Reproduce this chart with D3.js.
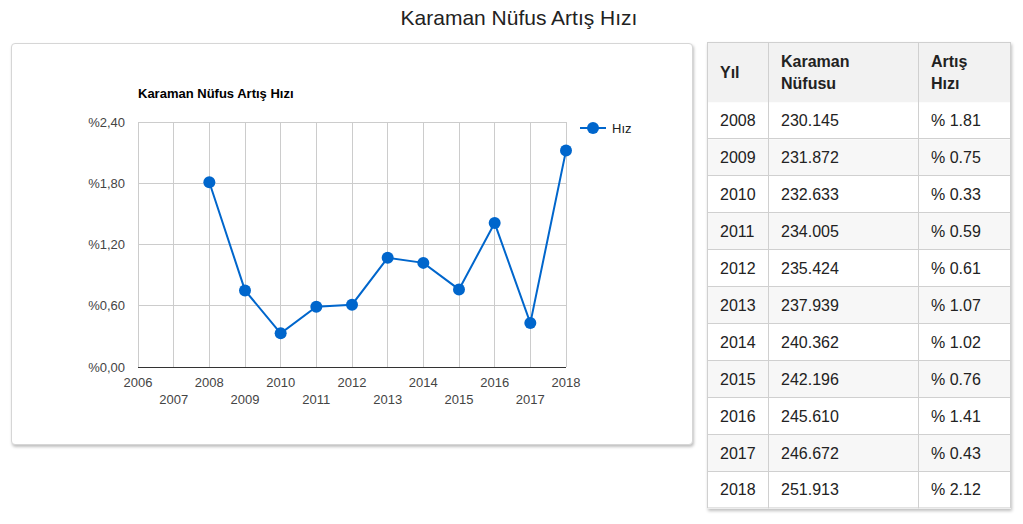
<!DOCTYPE html>
<html>
<head>
<meta charset="utf-8">
<script src="https://cdn.jsdelivr.net/npm/d3@7"></script>
<style>
  html, body { margin: 0; padding: 0; background: #fff; width: 1023px; height: 524px; overflow: hidden; }
  body { position: relative; font-family: "Liberation Sans", Arial, sans-serif; }
  #title { position: absolute; left: 0; width: 1038px; top: 6px; text-align: center; font-size: 21px; color: #222; }
  #card { position: absolute; left: 11px; top: 43px; width: 680px; height: 400px; border: 1px solid #d6d6d6; border-radius: 4px; box-shadow: 1px 2px 3px rgba(0,0,0,0.25); background: #fff; }
  #tbl { position: absolute; left: 707px; top: 42px; width: 304px; height: 467px; box-shadow: 1px 2px 3px rgba(0,0,0,0.25); background: #fff; }
  svg { position: absolute; left: 0; top: 0; }
</style>
</head>
<body>
<div id="title">Karaman Nüfus Artış Hızı</div>
<div id="card"></div>
<div id="tbl"></div>
<svg id="chart" width="1023" height="524"></svg>
<script>
const years = [2008, 2009, 2010, 2011, 2012, 2013, 2014, 2015, 2016, 2017, 2018];
const rates = [1.81, 0.75, 0.33, 0.59, 0.61, 1.07, 1.02, 0.76, 1.41, 0.43, 2.12];
const population = ["230.145", "231.872", "232.633", "234.005", "235.424", "237.939", "240.362", "242.196", "245.610", "246.672", "251.913"];
const rateLabels = ["% 1.81", "% 0.75", "% 0.33", "% 0.59", "% 0.61", "% 1.07", "% 1.02", "% 0.76", "% 1.41", "% 0.43", "% 2.12"];
const xTicks = [2006, 2007, 2008, 2009, 2010, 2011, 2012, 2013, 2014, 2015, 2016, 2017, 2018];
const yTicks = [0, 0.6, 1.2, 1.8, 2.4];
const yTickLabels = ["%0,00", "%0,60", "%1,20", "%1,80", "%2,40"];
const headers = [["Yıl"], ["Karaman", "Nüfusu"], ["Artış", "Hızı"]];

const svg = d3.select("#chart");
const color = "#0066cc";
const x = d3.scaleLinear().domain([2006, 2018]).range([138, 566]);
const y = d3.scaleLinear().domain([0, 2.4]).range([367, 122]);

const g = svg.append("g");
// gridlines
g.selectAll("line.h").data(yTicks).join("line")
  .attr("x1", x(2006)).attr("x2", x(2018))
  .attr("y1", d => y(d)).attr("y2", d => y(d))
  .attr("stroke", "#cccccc").attr("stroke-width", 1).attr("shape-rendering", "crispEdges");
g.selectAll("line.v").data(xTicks).join("line")
  .attr("x1", d => x(d)).attr("x2", d => x(d))
  .attr("y1", y(2.4)).attr("y2", y(0))
  .attr("stroke", "#cccccc").attr("stroke-width", 1).attr("shape-rendering", "crispEdges");
// baseline
g.append("line").attr("x1", x(2006)).attr("x2", x(2018)).attr("y1", y(0)).attr("y2", y(0))
  .attr("stroke", "#333").attr("stroke-width", 1).attr("shape-rendering", "crispEdges");

// y labels
g.selectAll("text.yl").data(yTicks).join("text")
  .attr("x", 125).attr("y", d => y(d) + 4.5)
  .attr("text-anchor", "end").attr("font-size", 13).attr("fill", "#444")
  .text((d, i) => yTickLabels[i]);
// x labels
g.selectAll("text.xl").data(xTicks).join("text")
  .attr("x", d => x(d)).attr("y", (d, i) => i % 2 === 0 ? 387 : 404)
  .attr("text-anchor", "middle").attr("font-size", 13).attr("fill", "#444")
  .text(d => d);

// chart title
g.append("text").attr("x", 138).attr("y", 98).attr("font-size", 13).attr("font-weight", "bold")
  .attr("fill", "#000").text("Karaman Nüfus Artış Hızı");

// line
const line = d3.line().x((d, i) => x(years[i])).y(d => y(d));
g.append("path").datum(rates).attr("d", line).attr("fill", "none")
  .attr("stroke", color).attr("stroke-width", 2);
g.selectAll("circle.pt").data(rates).join("circle")
  .attr("cx", (d, i) => x(years[i])).attr("cy", d => y(d)).attr("r", 6).attr("fill", color);

// legend
g.append("line").attr("x1", 580).attr("x2", 606).attr("y1", 128).attr("y2", 128)
  .attr("stroke", color).attr("stroke-width", 2);
g.append("circle").attr("cx", 593).attr("cy", 128).attr("r", 6).attr("fill", color);
g.append("text").attr("x", 612).attr("y", 132.5).attr("font-size", 13).attr("fill", "#222").text("Hız");

// table
const tx = [707, 768, 918, 1011];
const headTop = 42, headH = 60.5, rowH = 36.9;
const t = svg.append("g");
t.append("rect").attr("x", tx[0]).attr("y", headTop).attr("width", tx[3] - tx[0]).attr("height", headH).attr("fill", "#f2f2f2");
t.selectAll("rect.row").data(years).join("rect")
  .attr("x", tx[0]).attr("y", (d, i) => headTop + headH + i * rowH)
  .attr("width", tx[3] - tx[0]).attr("height", rowH)
  .attr("fill", (d, i) => i % 2 === 1 ? "#f7f7f7" : "#ffffff");
// horizontal borders
const hLines = years.map((d, i) => Math.round(headTop + headH + i * rowH));
t.selectAll("line.rb").data(hLines.slice(1)).join("line")
  .attr("x1", tx[0]).attr("x2", tx[3]).attr("y1", d => d - 0.5).attr("y2", d => d - 0.5)
  .attr("stroke", "#d0d0d0");
// vertical borders (body)
t.selectAll("line.cb").data(tx.slice(1, 3)).join("line")
  .attr("x1", d => d + 0.5).attr("x2", d => d + 0.5)
  .attr("y1", headTop).attr("y2", headTop + headH + years.length * rowH)
  .attr("stroke", "#d0d0d0");
// outer border
t.append("rect").attr("x", tx[0] + 0.5).attr("y", headTop + 0.5)
  .attr("width", tx[3] - tx[0] - 1).attr("height", headH + years.length * rowH - 1)
  .attr("fill", "none").attr("stroke", "#d0d0d0");
// header text
headers.forEach((lines, c) => {
  const baseY = lines.length === 1 ? 78 : 67;
  lines.forEach((txt, k) => {
    t.append("text").attr("x", tx[c] + 13).attr("y", baseY + k * 22)
      .attr("font-size", 16).attr("font-weight", "bold").attr("fill", "#222").text(txt);
  });
});
// body text
const cols = [years.map(String), population, rateLabels];
cols.forEach((vals, c) => {
  t.selectAll("text.c" + c).data(vals).join("text")
    .attr("x", tx[c] + 13).attr("y", (d, i) => headTop + headH + i * rowH + rowH / 2 + 5.5)
    .attr("font-size", 16).attr("fill", "#222").text(d => d);
});
</script>
</body>
</html>
